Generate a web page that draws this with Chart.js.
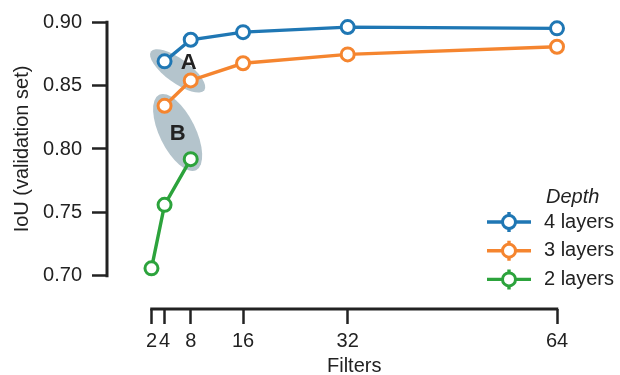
<!DOCTYPE html>
<html>
<head>
<meta charset="utf-8">
<script src="https://cdn.jsdelivr.net/npm/chart.js@4"></script>
<style>
  html, body { margin: 0; padding: 0; background: #fff; }
  #wrap { width: 620px; height: 375px; }
</style>
</head>
<body>
<div id="wrap"><canvas id="iouChart" width="620" height="375"></canvas></div>
<script>
// Data
const xTicks = [2, 4, 8, 16, 32, 64];
const yTicks = [0.70, 0.75, 0.80, 0.85, 0.90];

const filters4 = [4, 8, 16, 32, 64];
const iou4 = [0.869, 0.886, 0.892, 0.896, 0.895];

const filters3 = [4, 8, 16, 32, 64];
const iou3 = [0.834, 0.854, 0.8675, 0.8745, 0.8805];

const filters2 = [2, 4, 8];
const iou2 = [0.706, 0.756, 0.792];

const seriesLabels = ['4 layers', '3 layers', '2 layers'];
const seriesColors = ['#1f77b4', '#f5852f', '#2ca33c'];

const inkColor = '#222222';
const fontFamily = '"Liberation Sans", Arial, sans-serif';

function toPoints(xs, ys) {
    return xs.map(function(x, i) { return { x: x, y: ys[i] }; });
}

function makeDataset(label, xs, ys, color) {
    return {
        label: label,
        data: toPoints(xs, ys),
        borderColor: color,
        backgroundColor: color,
        borderWidth: 3.4,
        pointRadius: 6.5,
        pointHoverRadius: 6.5,
        pointBorderWidth: 3,
        pointBackgroundColor: '#ffffff',
        pointBorderColor: color,
        tension: 0,
        clip: false
    };
}

// Shaded ellipses A and B, anchored on the pairs of points they group
const groupingPlugin = {
    id: 'grouping',
    beforeDatasetsDraw(chart) {
        const ctx = chart.ctx;
        const x = chart.scales.x, y = chart.scales.y;
        const groups = [
            { label: 'A', p1: [filters4[0], iou4[0]], p2: [filters3[1], iou3[1]], a: 33, b: 12, tx: 11, ty: -9 },
            { label: 'B', p1: [filters3[0], iou3[0]], p2: [filters2[2], iou2[2]], a: 42, b: 18, tx: 0, ty: 0 }
        ];
        ctx.save();
        groups.forEach(function(g) {
            const x1 = x.getPixelForValue(g.p1[0]), y1 = y.getPixelForValue(g.p1[1]);
            const x2 = x.getPixelForValue(g.p2[0]), y2 = y.getPixelForValue(g.p2[1]);
            const cx = (x1 + x2) / 2, cy = (y1 + y2) / 2;
            const angle = Math.atan2(y2 - y1, x2 - x1);
            ctx.fillStyle = '#b4c4cc';
            ctx.beginPath();
            ctx.ellipse(cx, cy, g.a, g.b, angle, 0, Math.PI * 2);
            ctx.fill();
            ctx.fillStyle = inkColor;
            ctx.font = 'bold 22px ' + fontFamily;
            ctx.textAlign = 'center';
            ctx.textBaseline = 'middle';
            ctx.fillText(g.label, cx + g.tx, cy + g.ty + 1);
        });
        ctx.restore();
    }
};

// Trimmed spines, axis titles and the legend
const decorPlugin = {
    id: 'decor',
    afterDraw(chart) {
        const ctx = chart.ctx;
        const x = chart.scales.x, y = chart.scales.y;
        const area = chart.chartArea;
        ctx.save();
        ctx.strokeStyle = inkColor;
        ctx.lineWidth = 3;
        ctx.lineCap = 'butt';

        const yTop = y.getPixelForValue(yTicks[yTicks.length - 1]);
        const yBot = y.getPixelForValue(yTicks[0]);
        ctx.beginPath();
        ctx.moveTo(area.left, yTop - 1.25);
        ctx.lineTo(area.left, yBot + 1.25);
        ctx.stroke();

        const xL = x.getPixelForValue(xTicks[0]);
        const xR = x.getPixelForValue(xTicks[xTicks.length - 1]);
        ctx.beginPath();
        ctx.moveTo(xL - 1.25, area.bottom);
        ctx.lineTo(xR + 1.25, area.bottom);
        ctx.stroke();

        ctx.fillStyle = inkColor;
        ctx.font = '20px ' + fontFamily;
        ctx.textAlign = 'center';
        ctx.textBaseline = 'middle';
        ctx.fillText('Filters', (xL + xR) / 2, 366);

        ctx.save();
        ctx.translate(22, (yTop + yBot) / 2);
        ctx.rotate(-Math.PI / 2);
        ctx.fillText('IoU (validation set)', 0, 0);
        ctx.restore();

        // legend
        ctx.textAlign = 'left';
        ctx.font = 'italic 20px ' + fontFamily;
        ctx.fillText('Depth', 546, 197);
        ctx.font = '20px ' + fontFamily;
        seriesLabels.forEach(function(label, i) {
            const ly = 222 + i * 28.7;
            const c = seriesColors[i];
            ctx.strokeStyle = c;
            ctx.lineWidth = 3.4;
            ctx.beginPath();
            ctx.moveTo(487, ly);
            ctx.lineTo(531, ly);
            ctx.moveTo(509, ly - 10);
            ctx.lineTo(509, ly + 10);
            ctx.stroke();
            ctx.fillStyle = '#ffffff';
            ctx.lineWidth = 3;
            ctx.beginPath();
            ctx.arc(509, ly, 6.5, 0, Math.PI * 2);
            ctx.fill();
            ctx.stroke();
            ctx.fillStyle = inkColor;
            ctx.fillText(label, 544, ly);
        });
        ctx.restore();
    }
};

new Chart(document.getElementById('iouChart').getContext('2d'), {
    type: 'line',
    data: {
        datasets: [
            makeDataset(seriesLabels[0], filters4, iou4, seriesColors[0]),
            makeDataset(seriesLabels[1], filters3, iou3, seriesColors[1]),
            makeDataset(seriesLabels[2], filters2, iou2, seriesColors[2])
        ]
    },
    options: {
        responsive: false,
        animation: false,
        layout: { padding: { top: 19, right: 63, left: 0, bottom: 0 } },
        plugins: {
            legend: { display: false },
            tooltip: { enabled: false }
        },
        scales: {
            x: {
                type: 'linear',
                min: -4.8,
                max: 64,
                afterBuildTicks: function(scale) {
                    scale.ticks = xTicks.map(function(v) { return { value: v }; });
                },
                afterFit: function(scale) { scale.height = 66; },
                border: { display: false },
                grid: {
                    drawOnChartArea: false,
                    drawTicks: true,
                    tickLength: 15,
                    tickWidth: 2.5,
                    tickColor: inkColor
                },
                ticks: {
                    autoSkip: false,
                    maxRotation: 0,
                    padding: 5,
                    color: inkColor,
                    font: { family: fontFamily, size: 20 },
                    callback: function(v) { return String(v); }
                }
            },
            y: {
                min: 0.674,
                max: 0.90,
                afterBuildTicks: function(scale) {
                    scale.ticks = yTicks.map(function(v) { return { value: v }; });
                },
                afterFit: function(scale) { scale.width = 107; },
                border: { display: false },
                grid: {
                    drawOnChartArea: false,
                    drawTicks: true,
                    tickLength: 15,
                    tickWidth: 2.5,
                    tickColor: inkColor
                },
                ticks: {
                    autoSkip: false,
                    padding: 10,
                    color: inkColor,
                    font: { family: fontFamily, size: 20 },
                    callback: function(v) { return Number(v).toFixed(2); }
                }
            }
        }
    },
    plugins: [groupingPlugin, decorPlugin]
});
</script>
</body>
</html>
